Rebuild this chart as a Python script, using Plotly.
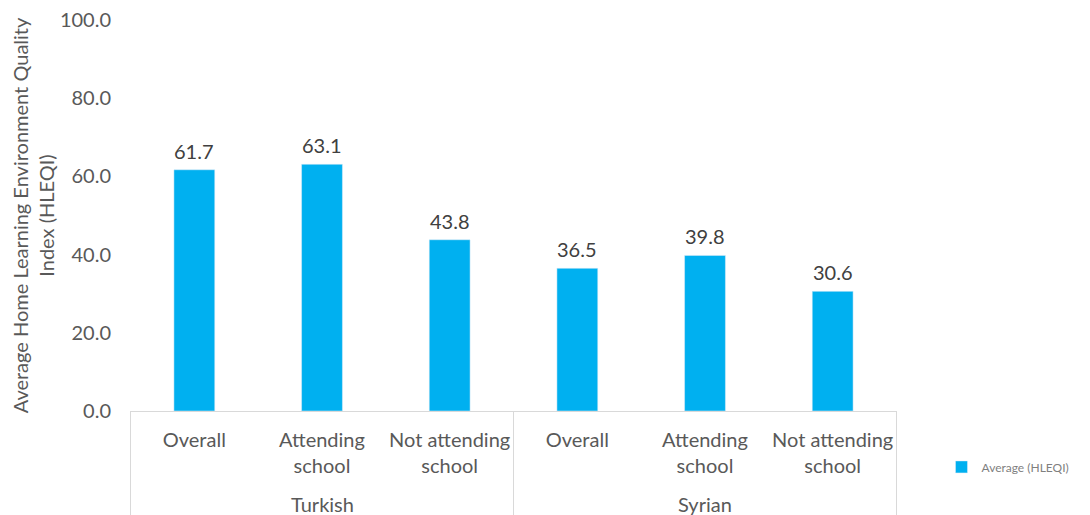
import plotly.graph_objects as go

groups = ["Turkish", "Syrian"]
subcats = ["Overall", "Attending<br>school", "Not attending<br>school",
           "Overall", "Attending<br>school", "Not attending<br>school"]
cat_ids = ["T-overall", "T-attending", "T-not", "S-overall", "S-attending", "S-not"]
values = [61.7, 63.1, 43.8, 36.5, 39.8, 30.6]
yticks = [0, 20, 40, 60, 80, 100]

FONT = "Lato, sans-serif"
GRAY = "#595959"
LINE = "#d9d9d9"

fig = go.Figure()
fig.add_trace(go.Bar(
    x=cat_ids, y=values,
    name="Average (HLEQI)",
    marker=dict(color="#00B0F0"),
    showlegend=True,
))

# data labels above bars
for c, v in zip(cat_ids, values):
    fig.add_annotation(x=c, y=v, xref="x", yref="y", text=f"{v:.1f}",
                       showarrow=False, yanchor="middle", yshift=19,
                       font=dict(size=20, color="#404040", family=FONT))

# group labels centred under each group of three categories
for i, g in enumerate(groups):
    fig.add_annotation(x=cat_ids[i * 3 + 1], y=-0.237, xref="x", yref="paper",
                       text=g, showarrow=False, yanchor="middle",
                       font=dict(size=20, color=GRAY, family=FONT))

# group divider lines
for xpos in [-0.5, 2.5, 5.5]:
    fig.add_shape(type="line", xref="x", yref="paper", x0=xpos, x1=xpos,
                  y0=0, y1=-0.3, line=dict(color=LINE, width=1))

fig.update_layout(
    width=1090, height=515,
    margin=dict(l=122, r=201, t=12, b=112, autoexpand=False),
    paper_bgcolor="white", plot_bgcolor="white",
    bargap=0.68,
    font=dict(family=FONT, size=20, color=GRAY),
    legend=dict(x=1.058, y=-0.143, xanchor="left", yanchor="middle",
                itemwidth=30,
                font=dict(family=FONT, size=12, color="#7f7f7f"),
                bgcolor="rgba(0,0,0,0)"),
    xaxis=dict(type="category", tickvals=cat_ids, ticktext=subcats,
               showline=True, linecolor=LINE, linewidth=1, ticks="",
               automargin=False, ticklabelstandoff=11, ticklabeloverflow="allow",
               tickfont=dict(size=20, color=GRAY)),
    yaxis=dict(range=[0, 100], tickvals=yticks, tickformat=".1f", showgrid=False,
               zeroline=False, showline=False, ticks="", automargin=False,
               ticklabelstandoff=18, ticklabeloverflow="allow",
               tickfont=dict(size=20, color=GRAY),
               title=dict(text="Average Home Learning Environment Quality<br>Index (HLEQI)",
                          font=dict(size=20, color=GRAY), standoff=7)),
)

fig.write_html("out.html")
